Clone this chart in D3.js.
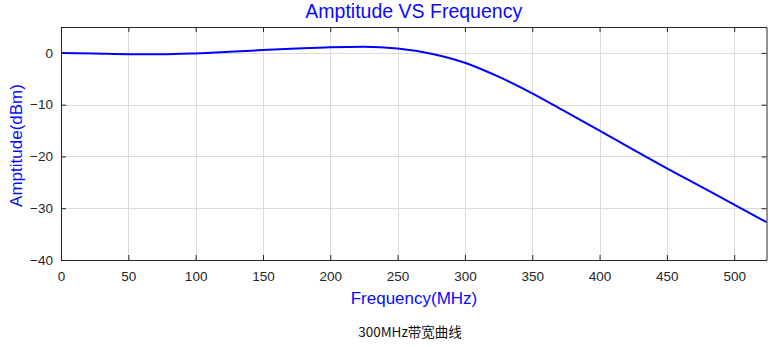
<!DOCTYPE html>
<html>
<head>
<meta charset="utf-8">
<script src="https://cdn.jsdelivr.net/npm/d3@7"></script>
<style>
  html, body { margin: 0; padding: 0; background: #fff; }
  svg { display: block; }
</style>
</head>
<body>
<svg id="chart" width="775" height="347"></svg>
<script>
// Frequency response samples
const freqMHz = [0, 25, 50, 75, 100, 125, 150, 175, 200, 225, 250, 275, 300, 325, 350, 375, 400, 425, 450, 475, 500, 524];
const ampDbm  = [0, -0.12, -0.25, -0.28, -0.1, 0.2, 0.55, 0.85, 1.1, 1.2, 0.85, -0.15, -1.9, -4.6, -7.8, -11.4, -15.0, -18.7, -22.3, -25.8, -29.3, -32.7];
const xTicks = [0, 50, 100, 150, 200, 250, 300, 350, 400, 450, 500];
const yTicks = [-40, -30, -20, -10, 0];

const titleText = "Amptitude VS Frequency";
const xLabel = "Frequency(MHz)";
const yLabel = "Amptitude(dBm)";
const caption = "300MHz带宽曲线";

const svg = d3.select("#chart");
const m = { left: 61, right: 766.5, top: 27, bottom: 260 };
const blue = "#0a0aff";
const axisColor = "#262626";

const x = d3.scaleLinear().domain([0, 524]).range([m.left, m.right]);
const y = d3.scaleLinear().domain([-40, 5]).range([m.bottom, m.top]);

// grid
const grid = svg.append("g").attr("stroke", "#dcdcdc").attr("stroke-width", 1);
grid.selectAll("line.vx").data(xTicks).join("line")
  .attr("x1", d => Math.round(x(d)) + 0.5).attr("x2", d => Math.round(x(d)) + 0.5)
  .attr("y1", m.top).attr("y2", m.bottom);
grid.selectAll("line.hy").data(yTicks).join("line")
  .attr("y1", d => Math.round(y(d)) + 0.5).attr("y2", d => Math.round(y(d)) + 0.5)
  .attr("x1", m.left).attr("x2", m.right);

// curve
const line = d3.line()
  .x((d, i) => x(freqMHz[i]))
  .y(d => y(d))
  .curve(d3.curveMonotoneX);
svg.append("path")
  .datum(ampDbm)
  .attr("fill", "none")
  .attr("stroke", "#0000ff")
  .attr("stroke-width", 2)
  .attr("d", line);

// axes (ticks point inward)
const font = "Arial, 'Liberation Sans', sans-serif";
const styleAxis = g => {
  g.select(".domain").attr("stroke", axisColor);
  g.selectAll(".tick line").attr("stroke", axisColor);
  g.selectAll(".tick text").attr("fill", axisColor).style("font-family", font).style("font-size", "13.5px");
};

svg.append("g").attr("transform", `translate(0,${m.bottom})`)
  .call(d3.axisBottom(x).tickValues(xTicks).tickSize(-5).tickSizeOuter(0).tickPadding(11))
  .call(styleAxis);
svg.append("g").attr("transform", `translate(0,${m.top})`)
  .call(d3.axisTop(x).tickValues(xTicks).tickSize(-5).tickSizeOuter(0).tickFormat(""))
  .call(styleAxis);
svg.append("g").attr("transform", `translate(${m.left},0)`)
  .call(d3.axisLeft(y).tickValues(yTicks).tickSize(-5).tickSizeOuter(0).tickPadding(8))
  .call(styleAxis);
svg.append("g").attr("transform", `translate(${m.right},0)`)
  .call(d3.axisRight(y).tickValues(yTicks).tickSize(-5).tickSizeOuter(0).tickFormat(""))
  .call(styleAxis);

// labels
svg.append("text").attr("x", (m.left + m.right) / 2).attr("y", 18)
  .attr("text-anchor", "middle").attr("fill", blue)
  .style("font-family", font).style("font-size", "19.5px").text(titleText);
svg.append("text").attr("x", 414).attr("y", 304)
  .attr("text-anchor", "middle").attr("fill", blue)
  .style("font-family", font).style("font-size", "17px").text(xLabel);
svg.append("text").attr("transform", `translate(22,${(m.top + m.bottom) / 2 + 2}) rotate(-90)`)
  .attr("text-anchor", "middle").attr("fill", blue)
  .style("font-family", font).style("font-size", "17px").text(yLabel);
svg.append("text").attr("x", 410).attr("y", 337)
  .attr("text-anchor", "middle").attr("fill", "#111")
  .style("font-family", "'Noto Sans CJK SC', sans-serif").style("font-size", "13.5px").text(caption);
</script>
</body>
</html>
